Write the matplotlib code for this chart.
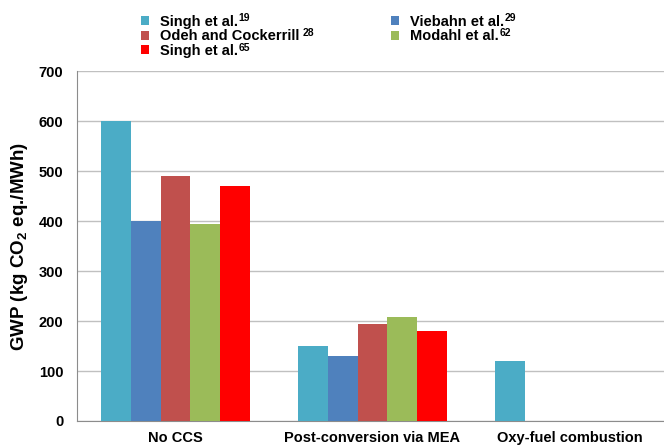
import numpy as np
import matplotlib.pyplot as plt
from matplotlib.patches import Patch

plt.rcParams['font.family'] = ['Liberation Sans', 'DejaVu Sans']
plt.rcParams['mathtext.fontset'] = 'custom'
plt.rcParams['mathtext.rm'] = 'Liberation Sans'
plt.rcParams['mathtext.bf'] = 'Liberation Sans:bold'

# Data
categories = ['No CCS', 'Post-conversion via MEA', 'Oxy-fuel combustion']
series_names = ['Singh et al.', 'Viebahn et al.', 'Odeh and Cockerrill', 'Modahl et al.', 'Singh et al.']
refs = ['19', '29', '28', '62', '65']
singh19 = [600, 150, 120]
viebahn29 = [400, 130, np.nan]
odeh28 = [490, 195, np.nan]
modahl62 = [395, 208, np.nan]
singh65 = [470, 180, np.nan]
colors = ['#4BACC6', '#4F81BD', '#C0504D', '#9BBB59', '#FF0000']

series = [singh19, viebahn29, odeh28, modahl62, singh65]

fig = plt.figure(figsize=(6.64, 4.45), dpi=100)
ax = fig.add_axes([0.116, 0.054, 0.884, 0.786])

x = np.arange(len(categories))
w = 0.152
for i, (vals, c) in enumerate(zip(series, colors)):
    ax.bar(x + (i - 2) * w, vals, w, color=c, zorder=3)

ax.set_xlim(-0.5, 2.48)
ax.set_ylim(0, 700)
ax.set_yticks(range(0, 701, 100))
ax.set_xticks(x)
ax.set_xticklabels(categories, fontweight='bold', fontsize=10.5)
for t in ax.get_yticklabels():
    t.set_fontweight('bold')
    t.set_fontsize(10.5)
ax.tick_params(length=0)
ax.tick_params(axis='y', pad=10)
ax.tick_params(axis='x', pad=7)
ax.grid(axis='y', color='#C0C0C0', linewidth=1, zorder=0)
for s in ['top', 'right']:
    ax.spines[s].set_visible(False)
for s in ['left', 'bottom']:
    ax.spines[s].set_color('#8C8C8C')
ax.set_ylabel(r'GWP (kg CO$_\mathbf{2}$ eq./MWh)', fontweight='bold', fontsize=13.5, labelpad=6)

# legend: column-major order
order = [0, 2, 4, 1, 3]
handles = [Patch(facecolor=colors[i]) for i in order]
labels = [series_names[i] for i in order]
leg = fig.legend(handles, labels, ncol=2, loc='upper left', bbox_to_anchor=(0.19, 1.0),
                 frameon=False, prop={'weight': 'bold', 'size': 10.5},
                 handlelength=0.55, handleheight=0.55, handletextpad=0.75,
                 columnspacing=6.3, labelspacing=0.05, borderaxespad=0.6)

# reference numbers as small raised text after each legend entry
fig.canvas.draw()
W, H = fig.bbox.width, fig.bbox.height
for t, i in zip(leg.get_texts(), order):
    bb = t.get_window_extent()
    gap = 4 if i == 2 else 1
    fig.text((bb.x1 + gap) / W, (bb.y1 + 1.5) / H, refs[i], fontsize=7.5,
             fontweight='bold', ha='left', va='top')

fig.savefig('out.png', dpi=100)
